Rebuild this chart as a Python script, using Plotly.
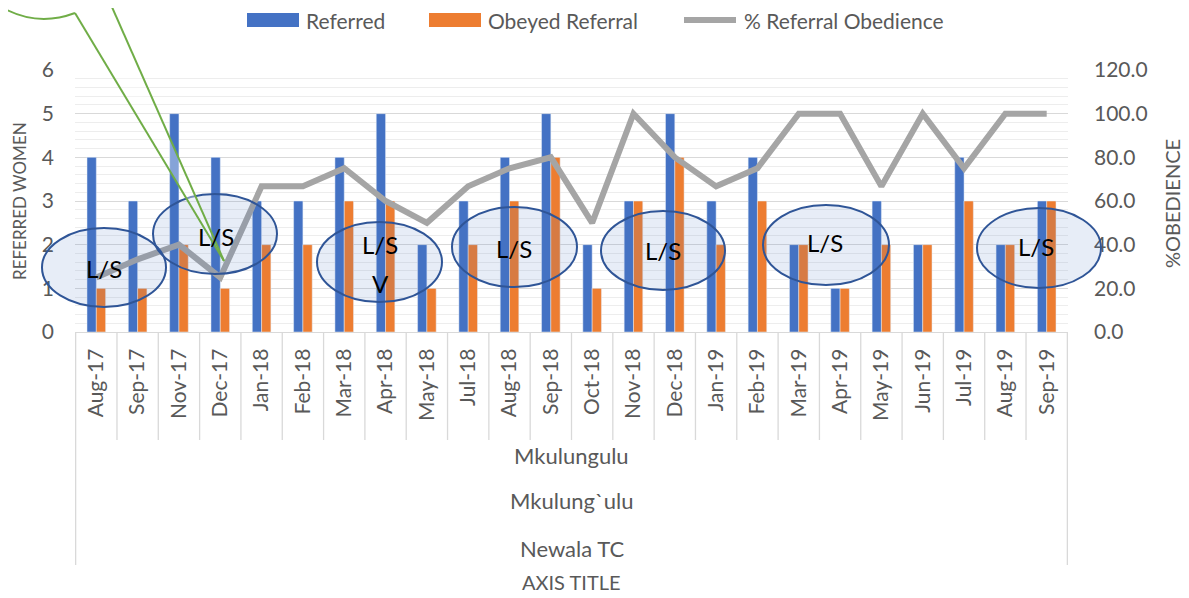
import plotly.graph_objects as go

months = ["Aug-17", "Sep-17", "Nov-17", "Dec-17", "Jan-18", "Feb-18", "Mar-18", "Apr-18",
          "May-18", "Jul-18", "Aug-18", "Sep-18", "Oct-18", "Nov-18", "Dec-18", "Jan-19",
          "Feb-19", "Mar-19", "Apr-19", "May-19", "Jun-19", "Jul-19", "Aug-19", "Sep-19"]
referred = [4, 3, 5, 4, 3, 3, 4, 5, 2, 3, 4, 5, 2, 3, 5, 3, 4, 2, 1, 3, 2, 4, 2, 3]
obeyed = [1, 1, 2, 1, 2, 2, 3, 3, 1, 2, 3, 4, 1, 3, 4, 2, 3, 2, 1, 2, 2, 3, 2, 3]
pct_obedience = [25.0, 33.3, 40.0, 25.0, 66.7, 66.7, 75.0, 60.0, 50.0, 66.7, 75.0, 80.0,
                 50.0, 100.0, 80.0, 66.7, 75.0, 100.0, 100.0, 66.7, 100.0, 75.0, 100.0, 100.0]
series_names = ["Referred", "Obeyed Referral", "% Referral Obedience"]
series_colors = ["#4472C4", "#ED7D31", "#A5A5A5"]
group_levels = ["Mkulungulu", "Mkulung`ulu", "Newala TC"]
x_title = "AXIS TITLE"
y_title = "REFERRED WOMEN"
y2_title = "%OBEDIENCE"
left_ticks = [0, 1, 2, 3, 4, 5, 6]
right_ticks = [0, 20, 40, 60, 80, 100, 120]

# page offset (browser body margin) compensation: design in window pixels
OFF = 8
WIN_W, WIN_H = 1189, 598
W, H = WIN_W - OFF, WIN_H - OFF
L, R, T, B = 75, 1068, 70, 332  # plot area in window px
PW, PH = R - L, B - T
FONT = "Lato, 'Open Sans', sans-serif"
GRAY = "#595959"


def px(x):
    return (x - L) / PW


def py(y):
    return (B - y) / PH


fig = go.Figure()
fig.add_trace(go.Bar(x=months, y=referred, name=series_names[0], marker_color=series_colors[0],
                     showlegend=False))
fig.add_trace(go.Bar(x=months, y=obeyed, name=series_names[1], marker_color=series_colors[1],
                     showlegend=False))
fig.add_trace(go.Scatter(x=months, y=pct_obedience, name=series_names[2], yaxis="y2",
                         mode="lines", line=dict(color=series_colors[2], width=6),
                         showlegend=False))

shapes = []
annotations = []
n = len(months)
# category dividers
for i in range(n + 1):
    bottom = 565 if i in (0, n) else 440
    shapes.append(dict(type="line", xref="x", yref="paper", x0=i - 0.5, x1=i - 0.5,
                       y0=0, y1=py(bottom), line=dict(color="#D9D9D9", width=1.3)))

# custom legend
leg_y = 20
leg_items = [(247, 299, 304, "rect"), (429, 481, 486, "rect"), (681, 739, 742, "line")]
for (x0, x1, tx, kind), name, col in zip(leg_items, series_names, series_colors):
    if kind == "rect":
        shapes.append(dict(type="rect", xref="paper", yref="paper", x0=px(x0), x1=px(x1),
                           y0=py(leg_y + 7), y1=py(leg_y - 7), fillcolor=col, line=dict(width=0)))
    else:
        shapes.append(dict(type="line", xref="paper", yref="paper", x0=px(x0 + 3), x1=px(x1 - 3),
                           y0=py(leg_y), y1=py(leg_y), line=dict(color=col, width=6)))
    annotations.append(dict(text=name, xref="paper", yref="paper", x=px(tx), y=py(leg_y),
                            xanchor="left", yanchor="middle", showarrow=False,
                            font=dict(family=FONT, size=21, color=GRAY)))

# ellipses (annotation callouts)
ellipses = [(42, 228, 166, 307), (153, 194, 277, 274), (317, 222, 442, 302),
            (452, 207, 577, 287), (601, 211, 725, 290), (763, 205, 889, 285),
            (977, 208, 1101, 288)]
for (x0, y0, x1, y1) in ellipses:
    shapes.append(dict(type="circle", xref="paper", yref="paper", x0=px(x0), x1=px(x1),
                       y0=py(y1), y1=py(y0), fillcolor="rgba(68,114,196,0.13)",
                       line=dict(color="#2F5597", width=2), layer="above"))


def P(x, y):
    return f"{px(x):.5f},{py(y):.5f}"


# green callout wedge
shapes.append(dict(type="path", xref="paper", yref="paper",
                   path=f"M{P(75, 13)} L{P(224, 261)} L{P(108, -2)} Z",
                   fillcolor="rgba(255,255,255,0.35)", line=dict(width=0), layer="above"))
for a, b in [((75, 13), (224, 261)), ((108, -2), (224, 261))]:
    shapes.append(dict(type="path", xref="paper", yref="paper", path=f"M{P(*a)} L{P(*b)}",
                       line=dict(color="#70AD47", width=2), layer="above"))
shapes.append(dict(type="path", xref="paper", yref="paper",
                   path=f"M{P(-2, 5)} Q{P(35, 28)} {P(75, 13)}",
                   line=dict(color="#70AD47", width=2), layer="above"))

ls_labels = [(104, 268, "L/S"), (216, 236, "L/S"), (380, 244, "L/S"), (380, 283, "V"),
             (514, 248, "L/S"), (663, 250, "L/S"), (825, 243, "L/S"), (1036, 246, "L/S")]
for (x, y, t) in ls_labels:
    annotations.append(dict(text=t, xref="paper", yref="paper", x=px(x), y=py(y),
                            xanchor="center", yanchor="middle",
                            showarrow=False, font=dict(family=FONT, size=24, color="#000000")))

for lvl, y in zip(group_levels, [455, 500, 548]):
    annotations.append(dict(text=lvl, xref="paper", yref="paper", x=0.5, y=py(y),
                            yanchor="middle", showarrow=False,
                            font=dict(family=FONT, size=22, color=GRAY)))
annotations.append(dict(text=x_title, xref="paper", yref="paper", x=0.5, y=py(582),
                        yanchor="middle", showarrow=False, font=dict(family=FONT, size=20, color=GRAY)))
annotations.append(dict(text=y_title, xref="paper", yref="paper", x=px(19), y=py(201),
                        xanchor="center", yanchor="middle",
                        textangle=-90, showarrow=False, font=dict(family=FONT, size=17, color=GRAY)))
annotations.append(dict(text=y2_title, xref="paper", yref="paper", x=px(1172), y=py(204),
                        xanchor="center", yanchor="middle",
                        textangle=-90, showarrow=False, font=dict(family=FONT, size=20, color=GRAY)))

fig.update_layout(
    width=W, height=H,
    margin=dict(l=L - OFF, r=WIN_W - R, t=T - OFF, b=WIN_H - B, pad=0, autoexpand=False),
    paper_bgcolor="white", plot_bgcolor="white",
    barmode="group", bargap=0.55, bargroupgap=0,
    font=dict(family=FONT, color=GRAY),
    showlegend=False,
    xaxis=dict(type="category", tickangle=-90, tickfont=dict(family=FONT, size=21, color=GRAY),
               showgrid=False, showline=True, linecolor="#D9D9D9", linewidth=1.3, ticks="",
               automargin=False, ticklabelstandoff=7),
    yaxis=dict(range=[0, 6], tickvals=left_ticks, tickfont=dict(family=FONT, size=21, color=GRAY),
               showgrid=True, gridcolor="#D9D9D9", gridwidth=1.3, zeroline=False,
               minor=dict(dtick=0.2, showgrid=True, gridcolor="#EDEDED", gridwidth=1),
               automargin=False, ticklabelstandoff=20),
    yaxis2=dict(range=[0, 120], tickvals=right_ticks, tickformat=".1f", overlaying="y", side="right",
                tickfont=dict(family=FONT, size=21, color=GRAY), showgrid=False, zeroline=False,
                automargin=False, ticklabelstandoff=25),
    shapes=shapes, annotations=annotations,
)

fig.write_html("out.html")
